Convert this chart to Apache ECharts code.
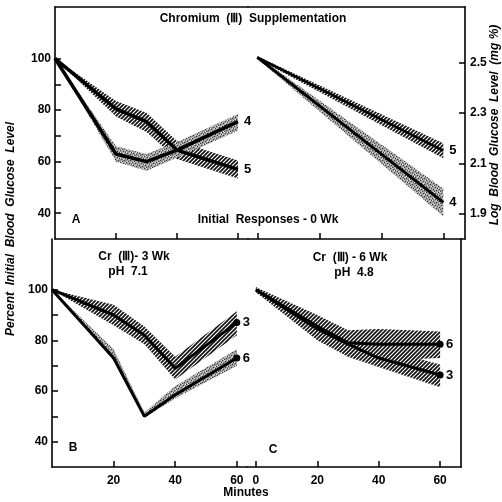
<!DOCTYPE html>
<html>
<head>
<meta charset="utf-8">
<script src="https://cdn.jsdelivr.net/npm/echarts@6/dist/echarts.min.js"></script>
<style>
html,body{margin:0;padding:0;background:#fff;}
#c{width:502px;height:502px;}
</style>
</head>
<body>
<div id="c"></div>
<script>
// ---- data ----
const minutes = [0, 20, 30, 40, 60];
const minutesLog = [0, 60];

// Panel A (initial, 0 wk) percent of initial
const A4 = [100, 63, 60, 64.5, 75.5];
const A4lo = [100, 60, 56.5, 61.5, 72];
const A4hi = [100, 66, 63, 67.5, 78.5];
const A5 = [100, 80.5, 75.5, 64.5, 57];
const A5lo = [100, 77.5, 71.5, 61, 53.5];
const A5hi = [100, 83.5, 79, 68, 60.5];

// Panel A right: log blood glucose (mg %)
const L5 = [2.52, 2.15];
const L5lo = [2.515, 2.12];
const L5hi = [2.525, 2.18];
const L4 = [2.52, 1.945];
const L4lo = [2.515, 1.89];
const L4hi = [2.525, 2.0];

// Panel B (3 wk, pH 7.1)
const B3 = [100, 90, 82, 69, 87];
const B3lo = [100, 86, 78.5, 64.5, 82];
const B3hi = [100, 94, 85.5, 73.5, 91.5];
const B6 = [100, 73, 50, 58.5, 73];
const B6lo = [100, 72, 49.5, 57, 70];
const B6hi = [100, 76.5, 51.5, 62, 76.5];

// Panel C (6 wk, pH 4.8)
const C6 = [100, 85.5, 79, 78.5, 78.5];
const C6lo = [99, 81, 74, 72, 73];
const C6hi = [101, 90, 84, 84.5, 83.5];
const C3 = [100, 84.5, 78.5, 73, 66.3];
const C3lo = [99, 80, 73.5, 69.5, 61.5];
const C3hi = [101, 89, 83, 77, 70.5];

// ticks / labels
const pctTicks = [40, 50, 60, 70, 80, 90, 100];
const pctLabels = [40, 60, 80, 100];
const logTicks = [1.9, 2.1, 2.3, 2.5];
const xTicksLeft = [20, 40, 60];
const xTicksRight = [0, 20, 40, 60];

// ---- patterns ----
function hatch() {
  const c = document.createElement('canvas');
  c.width = 4; c.height = 4;
  const g = c.getContext('2d');
  g.fillStyle = '#fff'; g.fillRect(0, 0, 4, 4);
  g.strokeStyle = '#111'; g.lineWidth = 1.7;
  g.beginPath();
  g.moveTo(-1, 5); g.lineTo(5, -1);
  g.moveTo(-1, 1); g.lineTo(1, -1);
  g.moveTo(3, 5); g.lineTo(5, 3);
  g.stroke();
  return c;
}
function stipple() {
  const c = document.createElement('canvas');
  c.width = 6; c.height = 6;
  const g = c.getContext('2d');
  g.fillStyle = '#9c9c9c'; g.fillRect(0, 0, 6, 6);
  g.fillStyle = '#3a3a3a';
  [[0,0],[3,1],[1,3],[4,4],[2,5],[5,2]].forEach(p => g.fillRect(p[0], p[1], 1, 1));
  g.fillStyle = '#e0e0e0';
  [[2,0],[5,0],[0,2],[3,3],[1,5],[4,2]].forEach(p => g.fillRect(p[0], p[1], 1, 1));
  return c;
}
const HATCH = {image: hatch(), repeat: 'repeat'};
const STIP = {image: stipple(), repeat: 'repeat'};

const FONT = "'Liberation Sans', Arial, sans-serif";
const axisLineStyle = {show: true, onZero: false, lineStyle: {color: '#000', width: 1.6}};

function band(id, xs, lo, hi, xi, yi, pat) {
  return {
    type: 'custom', name: id, xAxisIndex: xi, yAxisIndex: yi, z: 2, silent: true, clip: true,
    data: xs.map((x, i) => [x, lo[i], hi[i]]),
    encode: {x: 0, y: [1, 2]},
    renderItem: function (params, api) {
      if (params.dataIndex !== 0) return null;
      const pts = [];
      for (let i = 0; i < xs.length; i++) pts.push(api.coord([xs[i], hi[i]]));
      for (let i = xs.length - 1; i >= 0; i--) pts.push(api.coord([xs[i], lo[i]]));
      return {type: 'polygon', shape: {points: pts}, style: {fill: pat, stroke: null}};
    }
  };
}
function mean(name, xs, ys, xi, yi, width, dot) {
  const last = xs.length - 1;
  return {
    type: 'line', name: name, xAxisIndex: xi, yAxisIndex: yi,
    data: xs.map((x, i) => [x, ys[i]]),
    symbol: 'circle', symbolSize: (v, p) => (dot && p.dataIndex === last ? 7 : 0),
    itemStyle: {color: '#000'},
    lineStyle: {color: '#000', width: width}, z: 5,
    endLabel: {show: true, formatter: '{a}', color: '#000', fontFamily: FONT,
               fontWeight: 'bold', fontSize: 13, distance: 6}
  };
}

const series = [
  band('a5', minutes, A5lo, A5hi, 0, 0, HATCH),
  band('a4', minutes, A4lo, A4hi, 0, 0, STIP),
  band('l5', minutesLog, L5lo, L5hi, 2, 1, HATCH),
  band('l4', minutesLog, L4lo, L4hi, 2, 1, STIP),
  band('b3', minutes, B3lo, B3hi, 4, 2, HATCH),
  band('b6', minutes, B6lo, B6hi, 4, 2, STIP),
  band('c6', minutes, C6lo, C6hi, 5, 3, HATCH),
  band('c3', minutes, C3lo, C3hi, 5, 3, HATCH),
  mean('4', minutes, A4, 0, 0, 3.5, false),
  mean('5', minutes, A5, 0, 0, 3.5, false),
  mean('5', minutesLog, L5, 2, 1, 2.5, false),
  mean('4', minutesLog, L4, 2, 1, 3, false),
  mean('3', minutes, B3, 4, 2, 3, true),
  mean('6', minutes, B6, 4, 2, 3, true),
  mean('6', minutes, C6, 5, 3, 3, true),
  mean('3', minutes, C3, 5, 3, 3, true)
];

const lbl = {color: '#000', fontFamily: FONT, fontWeight: 'bold', fontSize: 12};
const noTick = {show: false};

const option = {
  backgroundColor: '#fff',
  animation: false,
  grid: [
    {left: 55, top: 7, width: 193, height: 232},
    {left: 248, top: 7, width: 217, height: 232},
    {left: 52, top: 239, width: 195, height: 228},
    {left: 247, top: 239, width: 214, height: 228}
  ],
  xAxis: [
    {gridIndex: 0, type: 'value', min: 0, max: 63.3, position: 'bottom', axisLine: axisLineStyle,
     axisTick: {show: true, inside: true, length: 6, customValues: xTicksLeft, lineStyle: {color: '#000', width: 1.5}},
     axisLabel: {show: false}, splitLine: {show: false}},
    {gridIndex: 0, type: 'value', min: 0, max: 63.3, position: 'top', axisLine: axisLineStyle,
     axisTick: noTick, axisLabel: {show: false}, splitLine: {show: false}},
    {gridIndex: 1, type: 'value', min: -3, max: 67, position: 'bottom', axisLine: axisLineStyle,
     axisTick: {show: true, inside: true, length: 6, customValues: xTicksRight, lineStyle: {color: '#000', width: 1.5}},
     axisLabel: {show: false}, splitLine: {show: false}},
    {gridIndex: 1, type: 'value', min: -3, max: 67, position: 'top', axisLine: axisLineStyle,
     axisTick: noTick, axisLabel: {show: false}, splitLine: {show: false}},
    {gridIndex: 2, type: 'value', min: 0, max: 63.3, position: 'bottom', axisLine: axisLineStyle,
     axisTick: {show: true, inside: true, length: 6, customValues: xTicksLeft, lineStyle: {color: '#000', width: 1.5}},
     axisLabel: Object.assign({show: true, margin: 8, customValues: xTicksLeft}, lbl), splitLine: {show: false}},
    {gridIndex: 3, type: 'value', min: -2.9, max: 66.8, position: 'bottom', axisLine: axisLineStyle,
     axisTick: {show: true, inside: true, length: 6, customValues: xTicksRight, lineStyle: {color: '#000', width: 1.5}},
     axisLabel: Object.assign({show: true, margin: 8, customValues: xTicksRight}, lbl), splitLine: {show: false}}
  ],
  yAxis: [
    {gridIndex: 0, type: 'value', min: 30, max: 120, position: 'left', axisLine: axisLineStyle,
     axisTick: {show: true, inside: true, length: 6, customValues: pctTicks, lineStyle: {color: '#000', width: 1.5}},
     axisLabel: Object.assign({show: true, margin: 4, customValues: pctLabels}, lbl), splitLine: {show: false}},
    {gridIndex: 1, type: 'value', min: 1.8, max: 2.72, position: 'right', axisLine: axisLineStyle,
     axisTick: {show: true, inside: true, length: 6, customValues: logTicks, lineStyle: {color: '#000', width: 1.5}},
     axisLabel: Object.assign({show: true, margin: 5, customValues: logTicks, formatter: v => v.toFixed(1)}, lbl),
     splitLine: {show: false}},
    {gridIndex: 2, type: 'value', min: 30, max: 120, position: 'left', axisLine: axisLineStyle,
     axisTick: {show: true, inside: true, length: 6, customValues: pctTicks, lineStyle: {color: '#000', width: 1.5}},
     axisLabel: Object.assign({show: true, margin: 4, customValues: pctLabels}, lbl), splitLine: {show: false}},
    {gridIndex: 3, type: 'value', min: 30, max: 120, position: 'right', axisLine: axisLineStyle,
     axisTick: noTick, axisLabel: {show: false}, splitLine: {show: false}}
  ],
  graphic: [
    {type: 'text', x: 253, y: 19, z: 100, style: {text: 'Chromium  (Ⅲ)  Supplementation', font: "bold 12px " + FONT, fill: '#000', align: 'center', verticalAlign: 'middle'}},
    {type: 'text', x: 268, y: 220, z: 100, style: {text: 'Initial  Responses - 0 Wk', font: "bold 12px " + FONT, fill: '#000', align: 'center', verticalAlign: 'middle'}},
    {type: 'text', x: 76, y: 220, z: 100, style: {text: 'A', font: "bold 12px " + FONT, fill: '#000', align: 'center', verticalAlign: 'middle'}},
    {type: 'text', x: 73, y: 448, z: 100, style: {text: 'B', font: "bold 12px " + FONT, fill: '#000', align: 'center', verticalAlign: 'middle'}},
    {type: 'text', x: 273, y: 450, z: 100, style: {text: 'C', font: "bold 12px " + FONT, fill: '#000', align: 'center', verticalAlign: 'middle'}},
    {type: 'text', x: 134, y: 257, z: 100, style: {text: 'Cr  (Ⅲ)- 3 Wk', font: "bold 12px " + FONT, fill: '#000', align: 'center', verticalAlign: 'middle'}},
    {type: 'text', x: 128, y: 272, z: 100, style: {text: 'pH  7.1', font: "bold 12px " + FONT, fill: '#000', align: 'center', verticalAlign: 'middle'}},
    {type: 'text', x: 350, y: 258, z: 100, style: {text: 'Cr  (Ⅲ) - 6 Wk', font: "bold 12px " + FONT, fill: '#000', align: 'center', verticalAlign: 'middle'}},
    {type: 'text', x: 354, y: 273, z: 100, style: {text: 'pH  4.8', font: "bold 12px " + FONT, fill: '#000', align: 'center', verticalAlign: 'middle'}},
    {type: 'text', x: 246, y: 493, z: 100, style: {text: 'Minutes', font: "bold 12px " + FONT, fill: '#000', align: 'center', verticalAlign: 'middle'}},
    {type: 'text', x: 11, y: 229, rotation: Math.PI / 2, z: 100, style: {text: 'Percent  Initial  Blood  Glucose  Level', font: "italic bold 12px " + FONT, fill: '#000', align: 'center', verticalAlign: 'middle'}},
    {type: 'text', x: 495, y: 125, rotation: Math.PI / 2, z: 100, style: {text: 'Log  Blood  Glucose  Level  (mg %)', font: "italic bold 12px " + FONT, fill: '#000', align: 'center', verticalAlign: 'middle'}}
  ],
  series: series
};

const chart = echarts.init(document.getElementById('c'), null, {renderer: 'canvas'});
chart.setOption(option);
</script>
</body>
</html>
